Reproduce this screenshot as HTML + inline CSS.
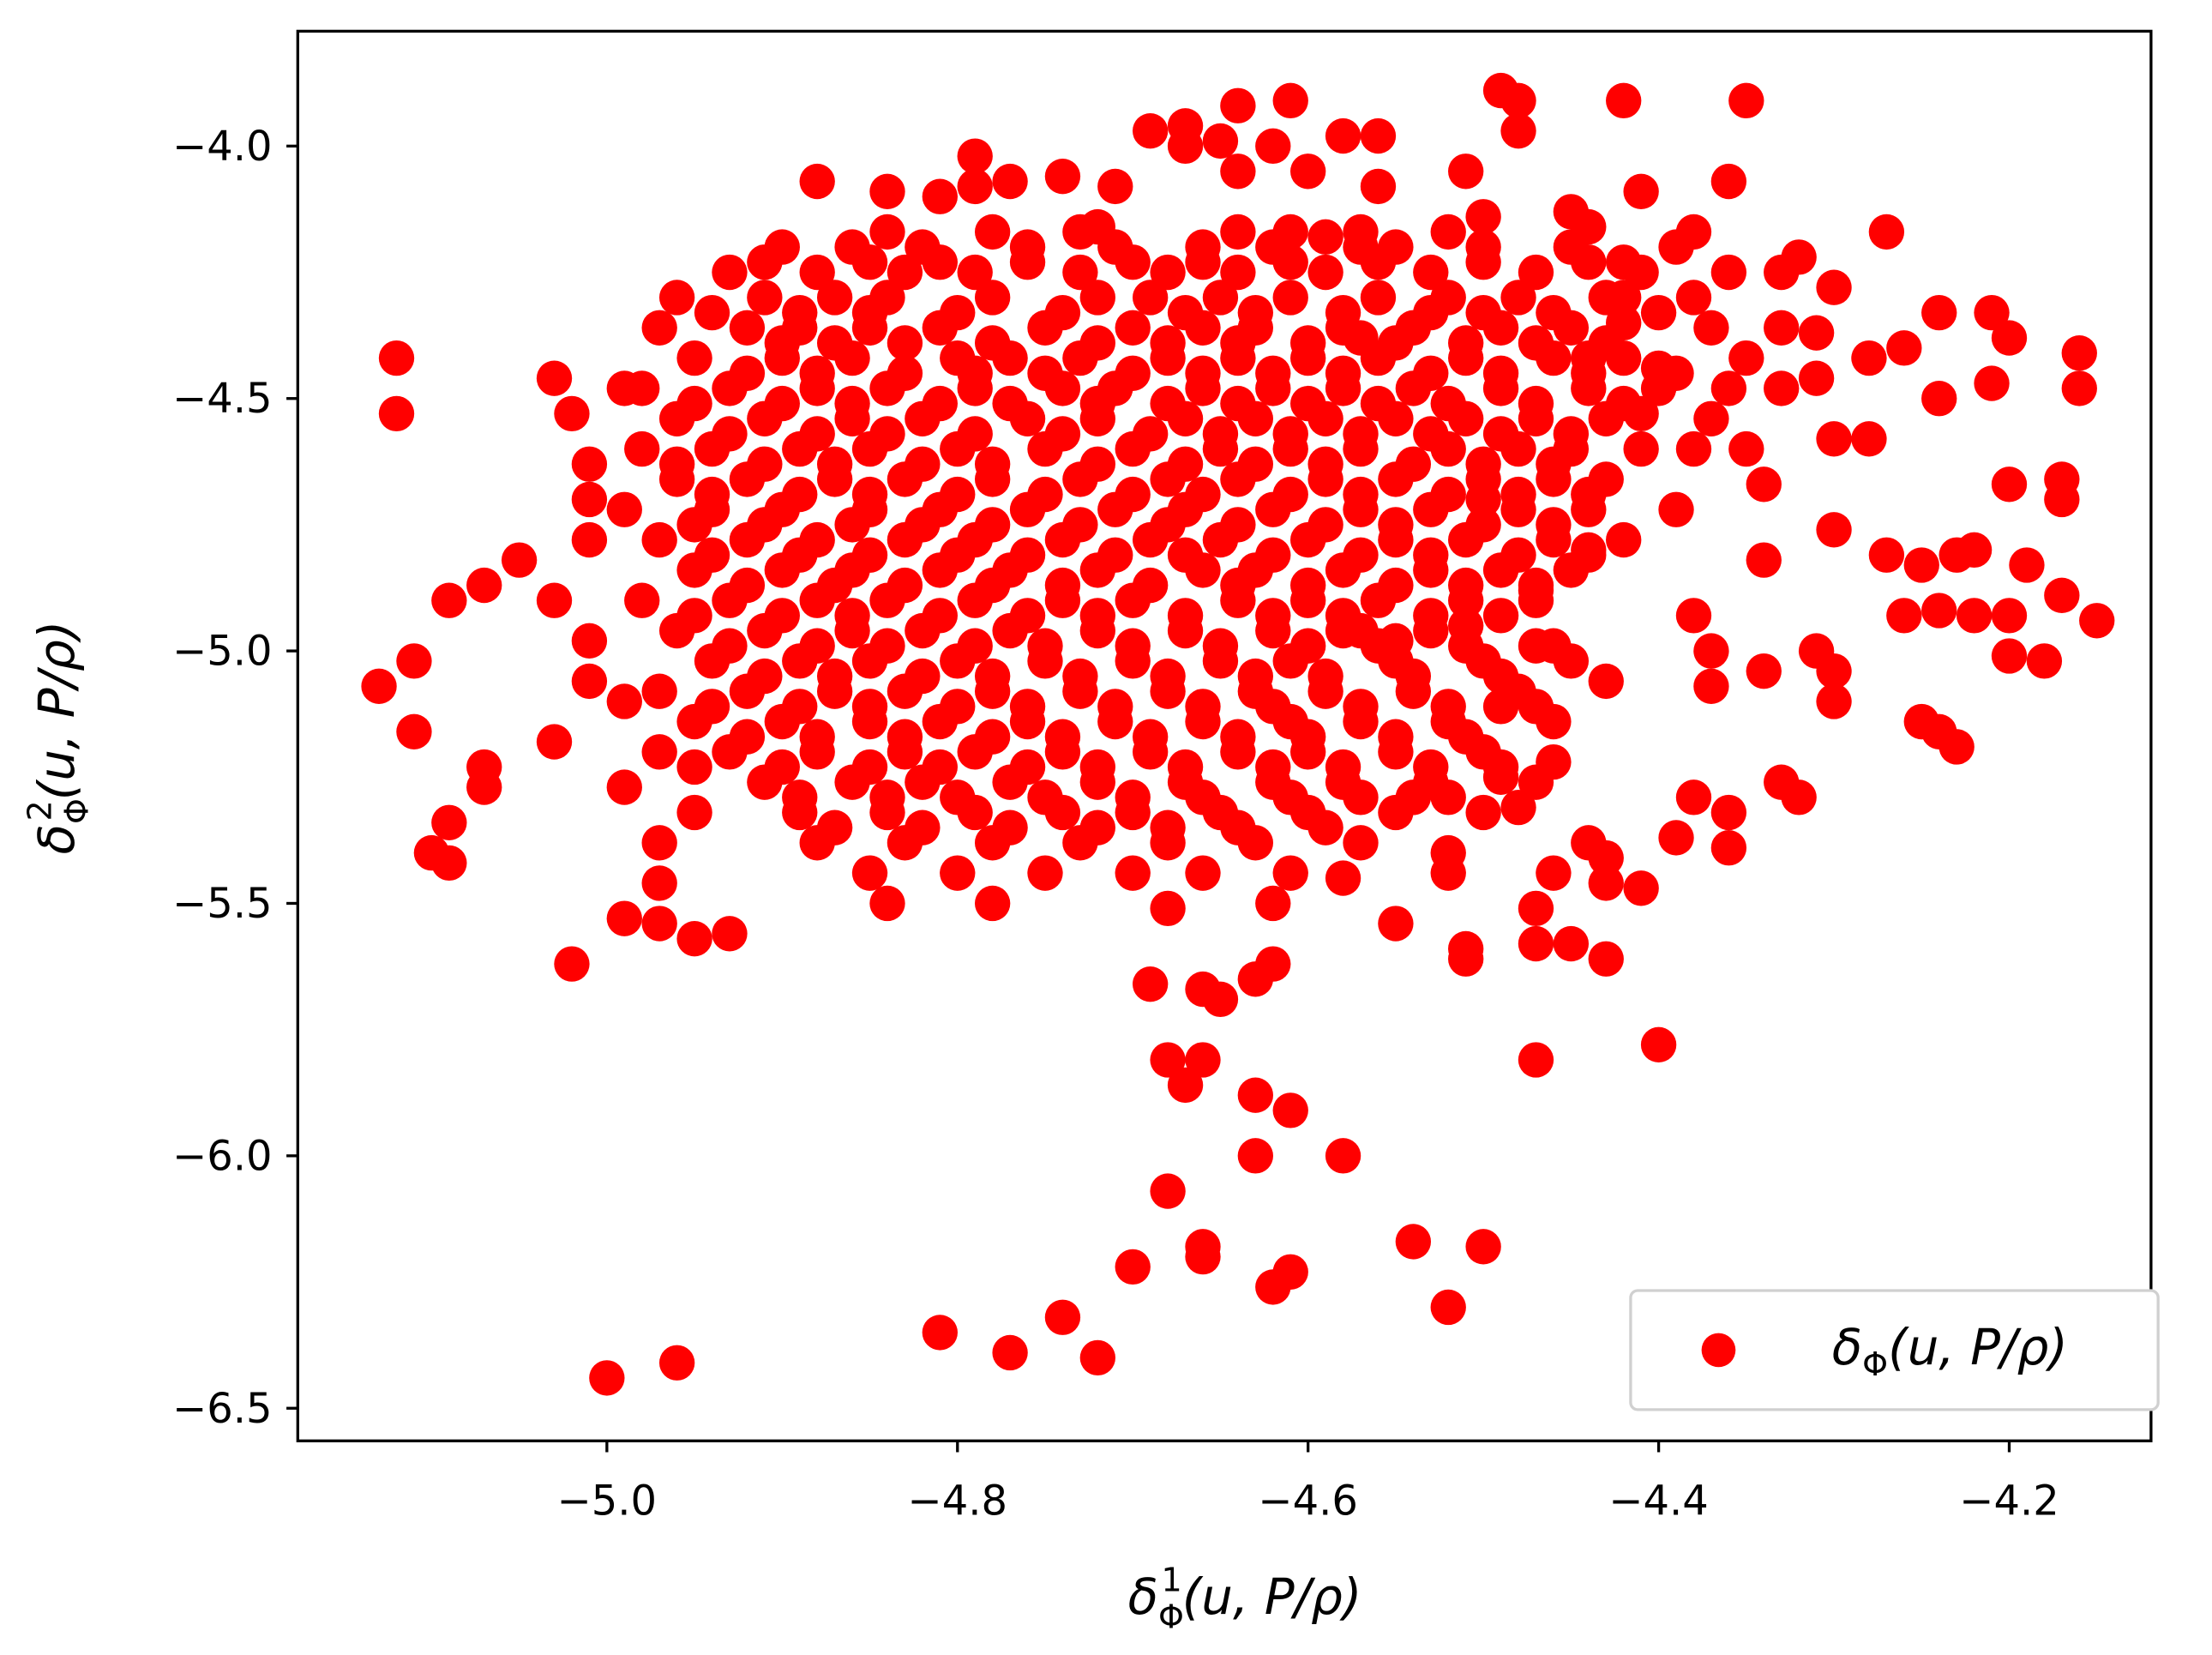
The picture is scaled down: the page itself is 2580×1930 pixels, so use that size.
<!DOCTYPE html>
<html><head><meta charset="utf-8"><style>
html,body{margin:0;padding:0;background:#fff;}
svg{display:block;}
text{font-family:"DejaVu Sans","Liberation Sans",sans-serif;fill:#000;}
</style></head><body>
<svg id="chart" width="2580" height="1930" viewBox="0 0 1560 1167" preserveAspectRatio="none" xmlns="http://www.w3.org/2000/svg">
<rect x="0" y="0" width="1560" height="1167" fill="#fff"/>
<g id="points"></g>
<rect x="210" y="22" width="1307" height="994" fill="none" stroke="#000" stroke-width="2"/>
<g id="xticks"></g>
<g id="yticks"></g>
<text x="878" y="1138" font-size="35" text-anchor="middle" font-style="italic">δ<tspan font-size="23" font-style="normal" dy="10">Φ</tspan><tspan font-size="23" font-style="normal" dx="-16" dy="-26">1</tspan><tspan dy="16">(u, P/ρ)</tspan></text>
<text transform="translate(52,520) rotate(-90)" font-size="35" text-anchor="middle" font-style="italic">δ<tspan font-size="23" font-style="normal" dy="10">Φ</tspan><tspan font-size="23" font-style="normal" dx="-16" dy="-26">2</tspan><tspan dy="16">(u, P/ρ)</tspan></text>
<g>
<rect x="1150" y="910" width="372" height="84" rx="5" fill="#fff" stroke="#d0d0d0" stroke-width="2"/>
<circle cx="1212" cy="952" r="12" fill="#ff0000"/>
<text x="1292" y="962" font-size="35" font-style="italic">δ<tspan font-size="23" font-style="normal" dy="8">Φ</tspan><tspan dy="-8">(u, P/ρ)</tspan></text>
</g>
</svg>
<script>
const xTicks = [-5.0, -4.8, -4.6, -4.4, -4.2];
const xTickLabels = ["−5.0", "−4.8", "−4.6", "−4.4", "−4.2"];
const yTicks = [-4.0, -4.5, -5.0, -5.5, -6.0, -6.5];
const yTickLabels = ["−4.0", "−4.5", "−5.0", "−5.5", "−6.0", "−6.5"];

const outlierX = [-5.12,-5.12,-5.13,-5.11,-5.11,-5.10,-5.09,-5.09,-5.09,-5.07,-5.07,-5.07,-5.05,-5.03,-5.03,-5.02,-5.03,-5.02,-5.01,-5.01,-5.01,-5.01,-5.01,-4.99,-4.99,-4.99,-4.99,-5.00,-4.96,-4.97,-4.97,-4.97,-4.95,-4.93,-4.81,-4.77,-4.74,-4.72,-4.70,-4.68,-4.66,-4.66,-4.62,-4.61,-4.63,-4.63,-4.61,-4.58,-4.54,-4.52,-4.50,-4.69,-4.68,-4.67,-4.66,-4.66,-4.65,-4.63,-4.62,-4.68,-4.40,-4.47,-4.47,-4.45,-4.43,-4.51,-4.51,-4.55,
-4.16,-4.16,-4.15,-4.17,-4.17,-4.17,-4.19,-4.20,-4.20,-4.18,-4.20,-4.20,-4.21,-4.21,-4.22,-4.23,-4.22,-4.23,-4.24,-4.25,-4.24,-4.24,-4.24,-4.26,-4.25,-4.26,-4.27,-4.28,-4.28,-4.27,-4.30,-4.30,-4.30,-4.30,-4.30,-4.31,-4.32,-4.31,-4.31,-4.32,-4.33,-4.34,-4.34,-4.34,-4.35,-4.36,-4.36,-4.36,-4.37,-4.37,-4.38,-4.38,-4.38,-4.39,-4.38,-4.39,-4.40,-4.41,-4.42,-4.41,-4.42,-4.42,-4.42,-4.43,-4.43,-4.43,-4.44,-4.41,-4.44,-4.44,-4.44,-4.45,-4.46,-4.46,-4.46,-4.47,-4.47,-4.48,-4.49,-4.48,-4.48,-4.49,-4.49,-4.50,-4.51,-4.50,-4.51,-4.52,-4.52,-4.54,-4.55,-4.56,-4.56,-4.57,-4.57,-4.58,-4.57,-4.58,-4.57,-4.59,-4.61,-4.60,-4.61,-4.62,-4.64,-4.64,-4.65,-4.67,-4.67,-4.69,-4.71,-4.72,-4.74,-4.77,-4.79,-4.81,-4.84,-4.88,-4.79];
const outlierY = [-4.42,-4.53,-5.07,-5.02,-5.16,-5.40,-5.34,-5.42,-4.90,-4.87,-5.23,-5.27,-4.82,-4.90,-4.46,-4.53,-5.18,-5.62,-4.63,-4.70,-4.78,-4.98,-5.06,-5.10,-4.48,-5.27,-5.53,-6.44,-6.41,-5.54,-5.46,-5.38,-5.57,-5.56,-6.35,-6.39,-6.32,-6.40,-6.22,-6.07,-6.20,-6.18,-6.26,-6.23,-6.00,-5.88,-5.91,-6.00,-6.17,-6.30,-6.18,-5.66,-5.81,-5.86,-5.81,-5.67,-5.69,-5.65,-5.62,-5.51,-5.78,-5.81,-5.58,-5.58,-5.61,-5.61,-5.59,-5.54,
-4.41,-4.48,-4.94,-4.89,-4.70,-4.66,-4.83,-4.93,-5.01,-5.02,-4.67,-4.38,-4.33,-4.47,-4.80,-4.81,-4.93,-5.19,-5.16,-5.14,-4.92,-4.33,-4.50,-4.40,-4.83,-4.93,-4.81,-4.58,-4.42,-4.17,-4.28,-4.58,-4.76,-5.04,-5.10,-5.00,-5.29,-4.37,-4.46,-4.22,-5.26,-5.04,-4.67,-4.82,-3.91,-4.07,-5.32,-5.39,-5.07,-5.00,-4.93,-4.60,-4.17,-4.72,-5.29,-5.37,-4.44,-4.53,-3.91,-4.09,-4.23,-4.35,-4.30,-5.06,-5.41,-5.46,-5.38,-5.47,-4.42,-4.80,-4.16,-4.13,-4.99,-5.22,-5.44,-4.88,-5.51,-5.31,-3.89,-3.91,-3.97,-5.11,-5.25,-4.14,-4.05,-4.70,-4.95,-5.40,-5.44,-5.29,-4.98,-3.98,-4.08,-4.20,-4.38,-3.98,-4.96,-5.45,-5.38,-4.18,-4.17,-4.05,-3.91,-4.00,-3.92,-4.05,-3.99,-3.96,-4.00,-3.97,-4.08,-4.16,-4.06,-4.07,-4.02,-4.10,-4.09,-4.07,-4.08];

const rowY = [-4.2,-4.25,-4.3,-4.36,-4.42,-4.48,-4.54,-4.6,-4.66,-4.72,-4.78,-4.84,-4.9,-4.96,-5.02,-5.08,-5.14,-5.2,-5.26,-5.32,-5.38,-5.44,-5.5];
const rowX = [
[-4.90,-4.86,-4.82,-4.76,-4.71,-4.66,-4.62,-4.55,-4.50,-4.45,-4.39],
[-4.93,-4.88,-4.83,-4.79,-4.73,-4.68,-4.64,-4.59,-4.53,-4.47,-4.41,-4.36,-4.33],
[-4.96,-4.91,-4.87,-4.84,-4.78,-4.72,-4.69,-4.65,-4.61,-4.56,-4.52,-4.48,-4.43,-4.38],
[-4.97,-4.92,-4.89,-4.85,-4.81,-4.75,-4.70,-4.66,-4.63,-4.58,-4.54,-4.49,-4.45,-4.37,-4.33],
[-4.95,-4.90,-4.86,-4.80,-4.77,-4.73,-4.68,-4.64,-4.60,-4.56,-4.51,-4.46,-4.42,-4.35],
[-4.98,-4.93,-4.88,-4.84,-4.79,-4.74,-4.71,-4.66,-4.62,-4.58,-4.54,-4.49,-4.44,-4.40,-4.36,-4.33],
[-4.96,-4.91,-4.86,-4.82,-4.76,-4.72,-4.67,-4.63,-4.59,-4.55,-4.51,-4.47,-4.43,-4.37],
[-4.98,-4.94,-4.89,-4.85,-4.80,-4.75,-4.70,-4.65,-4.61,-4.57,-4.52,-4.48,-4.45,-4.41,-4.35],
[-4.96,-4.92,-4.87,-4.83,-4.78,-4.73,-4.68,-4.64,-4.59,-4.55,-4.50,-4.46,-4.43],
[-4.99,-4.94,-4.90,-4.85,-4.81,-4.76,-4.71,-4.67,-4.62,-4.57,-4.53,-4.48,-4.44],
[-4.97,-4.92,-4.88,-4.83,-4.79,-4.74,-4.69,-4.65,-4.60,-4.55,-4.51,-4.46,-4.42],
[-4.95,-4.90,-4.86,-4.81,-4.77,-4.72,-4.66,-4.63,-4.58,-4.53,-4.49,-4.45],
[-4.98,-4.93,-4.88,-4.84,-4.79,-4.74,-4.70,-4.64,-4.60,-4.56,-4.51,-4.47],
[-4.96,-4.91,-4.86,-4.82,-4.77,-4.72,-4.67,-4.62,-4.58,-4.53],
[-4.94,-4.89,-4.85,-4.80,-4.75,-4.70,-4.65,-4.61,-4.55,-4.50,-4.45],
[-4.97,-4.92,-4.87,-4.83,-4.78,-4.73,-4.68,-4.63,-4.59,-4.54,-4.48],
[-4.95,-4.90,-4.85,-4.81,-4.76,-4.71,-4.66,-4.61,-4.57,-4.52,-4.46],
[-4.97,-4.93,-4.88,-4.83,-4.79,-4.74,-4.69,-4.64,-4.60,-4.55,-4.50],
[-4.91,-4.86,-4.82,-4.77,-4.72,-4.67,-4.62,-4.58,-4.53,-4.47],
[-4.95,-4.89,-4.84,-4.79,-4.74,-4.70,-4.65,-4.60,-4.55,-4.50],
[-4.88,-4.83,-4.78,-4.73,-4.68,-4.63],
[-4.85,-4.80,-4.75,-4.70,-4.66,-4.61],
[-4.84,-4.78,-4.62]
];

const rowY2 = [-4.17,-4.23,-4.33,-4.39,-4.45,-4.51,-4.57,-4.63,-4.69,-4.75,-4.81,-4.87,-4.93,-4.99,-5.05,-5.11,-5.17,-5.23,-5.29,-5.35];
const rowX2 = [
[-4.84,-4.78,-4.73,-4.64,-4.57,-4.52],
[-4.91,-4.85,-4.81,-4.76,-4.70,-4.66,-4.61,-4.56,-4.50,-4.44],
[-4.94,-4.89,-4.85,-4.80,-4.74,-4.67,-4.63,-4.58,-4.53,-4.50,-4.46,-4.40],
[-4.90,-4.87,-4.83,-4.78,-4.72,-4.68,-4.64,-4.60,-4.55,-4.51,-4.47,-4.43],
[-4.92,-4.88,-4.83,-4.79,-4.75,-4.70,-4.66,-4.62,-4.58,-4.53,-4.49,-4.44,-4.39],
[-4.95,-4.90,-4.86,-4.81,-4.77,-4.72,-4.68,-4.64,-4.60,-4.56,-4.52,-4.47,-4.42],
[-4.93,-4.88,-4.84,-4.79,-4.74,-4.69,-4.65,-4.61,-4.57,-4.53,-4.49,-4.45],
[-4.96,-4.91,-4.87,-4.82,-4.78,-4.72,-4.67,-4.63,-4.59,-4.54,-4.50,-4.46],
[-4.94,-4.89,-4.85,-4.80,-4.75,-4.70,-4.66,-4.61,-4.57,-4.52,-4.48,-4.44],
[-4.95,-4.91,-4.86,-4.82,-4.78,-4.73,-4.68,-4.64,-4.59,-4.55,-4.50,-4.46],
[-4.94,-4.89,-4.85,-4.80,-4.76,-4.71,-4.67,-4.62,-4.57,-4.53,-4.48,-4.44],
[-4.92,-4.87,-4.83,-4.78,-4.74,-4.69,-4.64,-4.60,-4.55,-4.51,-4.47],
[-4.95,-4.90,-4.86,-4.81,-4.76,-4.72,-4.67,-4.62,-4.58,-4.53,-4.49],
[-4.93,-4.88,-4.84,-4.79,-4.75,-4.70,-4.65,-4.60,-4.56,-4.51,-4.47],
[-4.91,-4.87,-4.82,-4.78,-4.73,-4.68,-4.63,-4.59,-4.54,-4.49],
[-4.94,-4.89,-4.85,-4.80,-4.76,-4.71,-4.66,-4.62,-4.57,-4.52,-4.47],
[-4.92,-4.88,-4.83,-4.78,-4.74,-4.69,-4.64,-4.60,-4.55,-4.51],
[-4.95,-4.90,-4.85,-4.81,-4.76,-4.72,-4.67,-4.62,-4.58,-4.53,-4.49],
[-4.89,-4.84,-4.80,-4.75,-4.70,-4.66,-4.61,-4.57,-4.52],
[-4.87,-4.82,-4.77,-4.72,-4.68,-4.64,-4.59]
];

const NS = "http://www.w3.org/2000/svg";
function xScale(v){ return 428 + (v + 5.0) / 0.2 * 247.25; }
function yScale(v){ return 103 + (-4.0 - v) / 0.5 * 178; }

const pts = document.getElementById('points');
function addPoint(x, y){
  const c = document.createElementNS(NS, 'circle');
  c.setAttribute('cx', xScale(x));
  c.setAttribute('cy', yScale(y));
  c.setAttribute('r', 12.5);
  c.setAttribute('fill', '#ff0000');
  
  
  pts.appendChild(c);
}
for (let i = 0; i < outlierX.length; i++) addPoint(outlierX[i], outlierY[i]);
for (let r = 0; r < rowY.length; r++) for (let j = 0; j < rowX[r].length; j++) addPoint(rowX[r][j], rowY[r]);
for (let r = 0; r < rowY2.length; r++) for (let j = 0; j < rowX2[r].length; j++) addPoint(rowX2[r][j], rowY2[r]);

const xg = document.getElementById('xticks');
xTicks.forEach((v, i) => {
  const x = xScale(v);
  const l = document.createElementNS(NS, 'line');
  l.setAttribute('x1', x); l.setAttribute('x2', x);
  l.setAttribute('y1', 1016); l.setAttribute('y2', 1024);
  l.setAttribute('stroke', '#000'); l.setAttribute('stroke-width', 2);
  
  
  xg.appendChild(l);
  const t = document.createElementNS(NS, 'text');
  t.setAttribute('x', x); t.setAttribute('y', 1068);
  t.setAttribute('font-size', 29); t.setAttribute('text-anchor', 'middle');
  t.textContent = xTickLabels[i];
  
  
  xg.appendChild(t);
});
const yg = document.getElementById('yticks');
yTicks.forEach((v, i) => {
  const y = yScale(v);
  const l = document.createElementNS(NS, 'line');
  l.setAttribute('x1', 202); l.setAttribute('x2', 210);
  l.setAttribute('y1', y); l.setAttribute('y2', y);
  l.setAttribute('stroke', '#000'); l.setAttribute('stroke-width', 2);
  
  
  yg.appendChild(l);
  const t = document.createElementNS(NS, 'text');
  t.setAttribute('x', 192); t.setAttribute('y', y + 10);
  t.setAttribute('font-size', 29); t.setAttribute('text-anchor', 'end');
  t.textContent = yTickLabels[i];
  
  
  yg.appendChild(t);
});
</script>
</body></html>
